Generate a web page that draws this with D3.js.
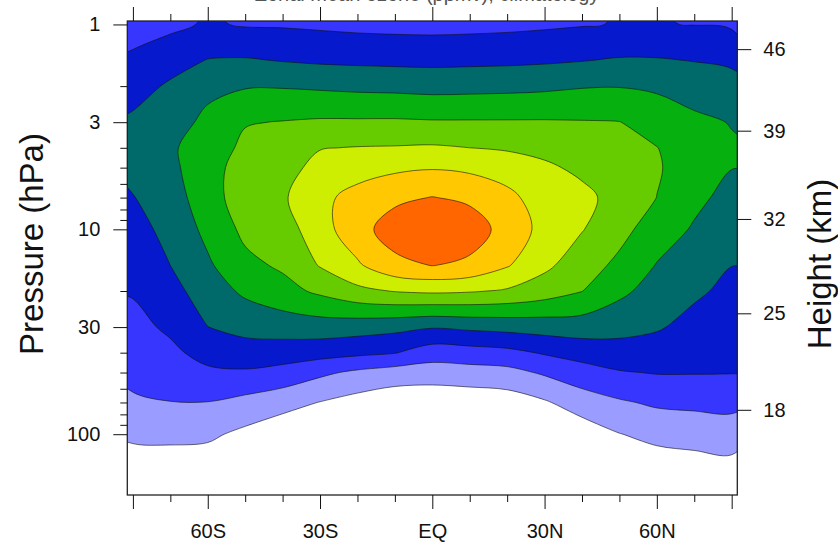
<!DOCTYPE html>
<html>
<head>
<meta charset="utf-8">
<script src="https://cdn.jsdelivr.net/npm/d3@7"></script>
<style>
  body { margin: 0; background: #fff; }
  text { font-family: "Liberation Sans", Arial, Helvetica, sans-serif; }
</style>
</head>
<body>
<svg id="chart"></svg>
<script>
var width = 838,
    height = 542;

// grid columns, latitude in degrees (south negative)
const lats = [-80, -70, -60, -50, -40, -30, -20, -10, 0, 10, 20, 30, 40, 50, 60, 70, 80];
// grid rows, pressure in hPa (top of plot first)
const levels = [1, 1.5, 2, 3, 4, 5, 7, 10, 15, 20, 30, 40, 50, 70, 100, 150, 200];

// ozone mixing ratio (ppmv), one row per pressure level, one value per latitude
const ozone = [
  [2.57, 2.77, 3.11, 2.92, 2.90, 2.83, 2.75, 2.71, 2.69, 2.72, 2.77, 2.85, 2.94, 3.04, 3.03, 2.98, 2.87], // 1
  [3.19, 3.63, 4.04, 4.09, 3.96, 3.86, 3.81, 3.77, 3.75, 3.78, 3.81, 3.87, 3.97, 4.09, 4.08, 3.97, 3.84], // 1.5
  [3.63, 4.13, 4.75, 4.92, 4.93, 4.85, 4.77, 4.73, 4.66, 4.69, 4.73, 4.80, 4.93, 4.96, 4.84, 4.58, 4.34], // 2
  [4.17, 4.56, 5.24, 5.94, 6.04, 6.13, 6.13, 6.14, 6.09, 6.09, 6.09, 6.09, 6.06, 6.02, 5.60, 5.20, 4.96], // 3
  [4.48, 4.87, 5.47, 6.21, 6.39, 6.96, 7.04, 7.07, 7.12, 7.00, 6.89, 6.77, 6.49, 6.32, 6.02, 5.47, 5.10], // 4
  [4.30, 4.76, 5.64, 6.40, 6.65, 7.29, 7.60, 7.81, 7.93, 7.80, 7.55, 7.14, 6.83, 6.54, 6.09, 5.52, 5.02], // 5
  [3.96, 4.53, 5.57, 6.53, 6.87, 7.76, 8.33, 8.80, 9.03, 8.82, 8.26, 7.52, 7.21, 6.71, 5.99, 5.23, 4.70], // 7
  [3.66, 4.28, 5.26, 6.23, 6.53, 7.58, 8.65, 9.45, 9.60, 9.50, 8.63, 7.68, 7.05, 6.32, 5.50, 4.90, 4.37], // 10
  [3.32, 4.00, 4.85, 5.74, 6.15, 7.06, 7.86, 8.75, 9.02, 8.80, 8.08, 7.21, 6.46, 5.77, 4.95, 4.47, 4.01], // 15
  [3.08, 3.66, 4.50, 5.18, 5.66, 6.19, 6.75, 7.05, 7.17, 7.09, 6.89, 6.50, 6.02, 5.22, 4.60, 4.16, 3.77], // 20
  [2.71, 3.17, 3.99, 4.31, 4.45, 4.53, 4.43, 4.29, 4.07, 4.21, 4.32, 4.43, 4.49, 4.33, 4.10, 3.69, 3.44], // 30
  [2.45, 2.79, 3.34, 3.56, 3.50, 3.39, 3.23, 3.05, 2.47, 2.58, 2.73, 3.10, 3.39, 3.58, 3.54, 3.33, 3.21], // 40
  [2.25, 2.47, 2.82, 2.88, 2.66, 2.20, 1.81, 1.55, 1.51, 1.60, 1.69, 2.13, 2.59, 2.93, 3.05, 3.05, 3.03], // 50
  [1.87, 1.98, 1.98, 1.70, 1.37, 0.97, 0.63, 0.37, 0.28, 0.36, 0.49, 0.89, 1.49, 1.88, 2.15, 2.22, 2.28], // 70
  [1.20, 1.25, 1.18, 0.77, 0.33, 0.40, 0.30, 0.25, 0.20, 0.25, 0.30, 0.40, 0.44, 0.97, 1.28, 1.40, 1.49], // 100
  [0.43, 0.41, 0.40, 0.40, 0.25, 0.30, 0.20, 0.15, 0.15, 0.15, 0.20, 0.25, 0.30, 0.40, 0.40, 0.51, 0.63], // 150
  [0.30, 0.30, 0.30, 0.30, 0.15, 0.20, 0.10, 0.10, 0.10, 0.10, 0.10, 0.15, 0.20, 0.30, 0.30, 0.35, 0.40]  // 200
];

// contour levels and fill colours (first colour is below the lowest level)
const thresholds = [1, 2, 3, 4, 5, 6, 7, 8, 9];
const fills = ["#ffffff", "#9a9cff", "#3636ff", "#0719cc", "#006a6a", "#05b00f", "#66cc00", "#cdee00", "#ffc800", "#ff6600"];

// axis ticks
const latMajor = [-80, -60, -30, 0, 30, 60, 80];
const latLabels = ["", "60S", "30S", "EQ", "30N", "60N", ""];
const latMinor = [-70, -50, -40, -20, -10, 10, 20, 40, 50, 70];
const presMajor = [1, 3, 10, 30, 100];
const presMinor = [2, 4, 5, 6, 7, 8, 9, 20, 40, 50, 60, 70, 80, 90];
const hgtLabels = [46, 39, 32, 25, 18];      // km
const hgtPres = [1.32, 3.3, 8.9, 25.7, 76];  // hPa where each height sits

var x = d3.scaleLinear()
    .domain([-81.5, 81.5])
    .range([127.3, 737.3]);

var y = d3.scaleLog()
    .domain([0.962, 198])
    .range([21, 495]);

const svg = d3.select("#chart")
    .attr("width", width)
    .attr("height", height);

const x0 = x.range()[0], x1 = x.range()[1];
const y0 = y.range()[0], y1 = y.range()[1];

svg.append("defs").append("clipPath")
    .attr("id", "frame")
    .append("rect")
    .attr("x", x0).attr("y", y0)
    .attr("width", x1 - x0).attr("height", y1 - y0);

// grid coordinates from d3.contours -> pixels
const nx = lats.length, ny = levels.length;
const colX = d3.scaleLinear()
    .domain([0.5, nx - 0.5])
    .range([x(lats[0]), x(lats[nx - 1])]);
const rowY = d3.scaleLinear()
    .domain(levels.map((d, i) => i + 0.5))
    .range(levels.map(d => y(d)));

var values = [];
ozone.forEach(row => row.forEach(v => values.push(v)));

const bands = d3.contours()
    .size([nx, ny])
    .thresholds(thresholds)(values);

const ringLine = d3.line()
    .x(d => colX(d[0]))
    .y(d => rowY(d[1]))
    .curve(d3.curveCatmullRomClosed.alpha(0.5));

const plot = svg.append("g").attr("clip-path", "url(#frame)");

plot.append("rect")
    .attr("x", x0).attr("y", y0)
    .attr("width", x1 - x0).attr("height", y1 - y0)
    .attr("fill", fills[0]);

plot.selectAll("path.band")
    .data(bands)
    .join("path")
    .attr("class", "band")
    .attr("d", d => d.coordinates
        .map(poly => poly.map(r => ringLine(r.slice(0, -1))).join(""))
        .join(""))
    .attr("fill", (d, i) => fills[i + 1])
    .attr("fill-rule", "evenodd")
    .attr("stroke", "#111")
    .attr("stroke-width", 0.7)
    .attr("stroke-opacity", 0.85);

// frame
svg.append("rect")
    .attr("x", x0).attr("y", y0)
    .attr("width", x1 - x0).attr("height", y1 - y0)
    .attr("fill", "none")
    .attr("stroke", "#222")
    .attr("stroke-width", 1.3);

function styleAxis(g) {
    g.select(".domain").remove();
    g.attr("color", "#111");
    g.selectAll("line").attr("stroke-width", 1);
    g.selectAll("text")
        .attr("font-family", "'Liberation Sans', Arial, sans-serif")
        .attr("font-size", 20)
        .attr("fill", "#111");
}

// bottom
svg.append("g").attr("transform", `translate(0,${y1})`)
    .call(d3.axisBottom(x).tickValues(latMajor).tickSize(14).tickPadding(15)
        .tickFormat((d, i) => latLabels[i]))
    .call(styleAxis);
svg.append("g").attr("transform", `translate(0,${y1})`)
    .call(d3.axisBottom(x).tickValues(latMinor).tickSize(7).tickFormat(""))
    .call(styleAxis);

// top
svg.append("g").attr("transform", `translate(0,${y0})`)
    .call(d3.axisTop(x).tickValues(latMajor).tickSize(14).tickFormat(""))
    .call(styleAxis);
svg.append("g").attr("transform", `translate(0,${y0})`)
    .call(d3.axisTop(x).tickValues(latMinor).tickSize(7).tickFormat(""))
    .call(styleAxis);

// left, pressure
svg.append("g").attr("transform", `translate(${x0},0)`)
    .call(d3.axisLeft(y).tickValues(presMajor).tickSize(14).tickPadding(13)
        .tickFormat(d => d))
    .call(styleAxis);
svg.append("g").attr("transform", `translate(${x0},0)`)
    .call(d3.axisLeft(y).tickValues(presMinor).tickSize(7).tickFormat(""))
    .call(styleAxis);

// right, height
svg.append("g").attr("transform", `translate(${x1},0)`)
    .call(d3.axisRight(y).tickValues(hgtPres).tickSize(14).tickPadding(12)
        .tickFormat((d, i) => hgtLabels[i]))
    .call(styleAxis);

// axis titles
svg.append("text")
    .attr("transform", "translate(43,244) rotate(-90)")
    .attr("text-anchor", "middle")
    .attr("font-size", 33)
    .attr("fill", "#111")
    .text("Pressure (hPa)");

svg.append("text")
    .attr("transform", "translate(831,264) rotate(-90)")
    .attr("text-anchor", "middle")
    .attr("font-size", 33)
    .attr("fill", "#111")
    .text("Height (km)");

// title, almost entirely above the top edge of the picture
svg.append("text")
    .attr("x", 427)
    .attr("y", 1)
    .attr("text-anchor", "middle")
    .attr("font-size", 20)
    .attr("fill", "#555")
    .text("Zonal mean ozone (ppmv), climatology");
</script>
</body>
</html>
